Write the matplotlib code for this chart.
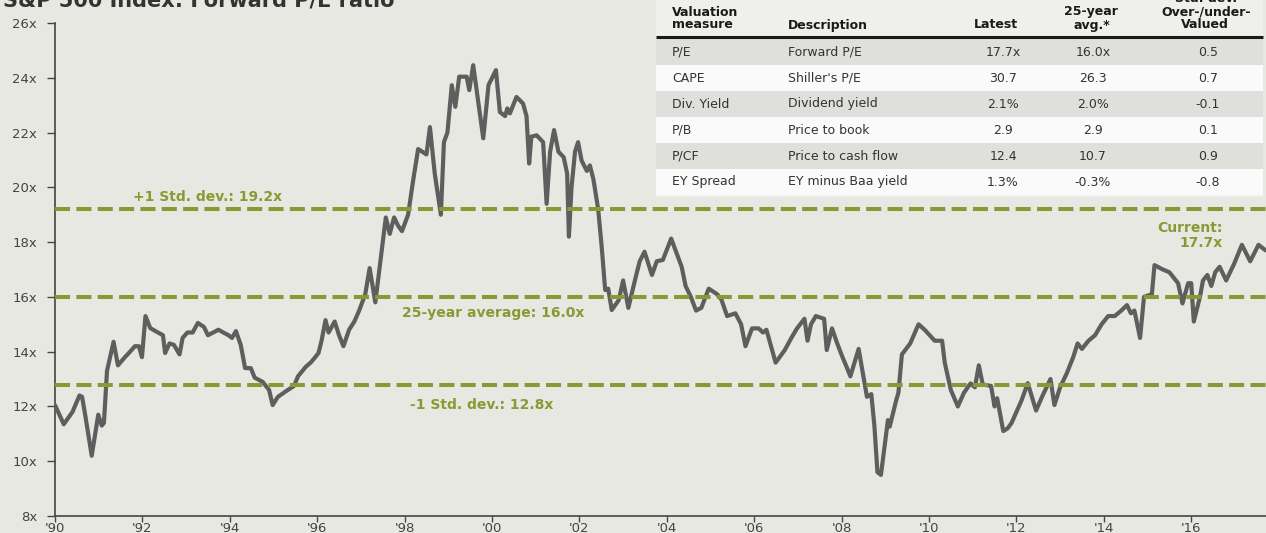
import matplotlib
matplotlib.use("Agg")
import matplotlib.pyplot as plt
from matplotlib.table import Table

# ---------------- data ----------------
years = [
    1990.00, 1990.20, 1990.40, 1990.56, 1990.62, 1990.70, 1990.84, 1990.99, 1991.07, 1991.12,
    1991.19, 1991.34, 1991.44, 1991.60, 1991.69, 1991.83, 1991.92, 1991.99, 1992.07, 1992.18,
    1992.30, 1992.47, 1992.52, 1992.62, 1992.72, 1992.85, 1992.92, 1993.03, 1993.15, 1993.27,
    1993.41, 1993.50, 1993.62, 1993.74, 1993.85, 1993.97, 1994.05, 1994.14, 1994.25, 1994.35,
    1994.48, 1994.57, 1994.75, 1994.90, 1994.98, 1995.10, 1995.28, 1995.47, 1995.56, 1995.74,
    1995.85, 1995.93, 1996.03, 1996.10, 1996.19, 1996.26, 1996.40, 1996.50, 1996.60, 1996.73,
    1996.85, 1996.96, 1997.10, 1997.20, 1997.33, 1997.43, 1997.57, 1997.66, 1997.76, 1997.85,
    1997.94, 1998.08, 1998.20, 1998.31, 1998.50, 1998.58, 1998.69, 1998.83, 1998.90, 1998.98,
    1999.08, 1999.16, 1999.25, 1999.42, 1999.48, 1999.57, 1999.69, 1999.80, 1999.92, 2000.09,
    2000.18, 2000.30, 2000.35, 2000.41, 2000.56, 2000.71, 2000.79, 2000.85, 2000.90, 2001.02,
    2001.17, 2001.25, 2001.33, 2001.42, 2001.52, 2001.64, 2001.72, 2001.76, 2001.82, 2001.90,
    2001.97, 2002.05, 2002.17, 2002.24, 2002.32, 2002.43, 2002.51, 2002.59, 2002.66, 2002.74,
    2002.90, 2003.00, 2003.12, 2003.27, 2003.38, 2003.49, 2003.66, 2003.77, 2003.91, 2004.10,
    2004.34, 2004.43, 2004.55, 2004.67, 2004.79, 2004.96, 2005.15, 2005.25, 2005.38, 2005.57,
    2005.70, 2005.80, 2005.95, 2006.10, 2006.20, 2006.28, 2006.49, 2006.70, 2006.85, 2006.98,
    2007.15, 2007.22, 2007.30, 2007.41, 2007.60, 2007.66, 2007.78, 2007.90, 2008.02, 2008.10,
    2008.20, 2008.39, 2008.54, 2008.58, 2008.68, 2008.75, 2008.82, 2008.90, 2009.06, 2009.10,
    2009.25, 2009.30, 2009.38, 2009.57, 2009.76, 2009.90, 2010.13, 2010.30, 2010.36, 2010.50,
    2010.66, 2010.80, 2010.95, 2011.05, 2011.14, 2011.23, 2011.42, 2011.50, 2011.56, 2011.70,
    2011.80, 2011.89, 2012.12, 2012.26, 2012.45, 2012.60, 2012.78, 2012.87, 2013.00, 2013.15,
    2013.30, 2013.40, 2013.50, 2013.65, 2013.80, 2013.95, 2014.10, 2014.25, 2014.40, 2014.53,
    2014.62, 2014.70, 2014.83, 2014.92, 2015.10, 2015.16, 2015.35, 2015.50, 2015.70, 2015.80,
    2015.93, 2016.00, 2016.06, 2016.20, 2016.27, 2016.37, 2016.46, 2016.55, 2016.65, 2016.80,
    2016.98, 2017.16, 2017.35, 2017.54, 2017.70,
]
forward_pe = [
    12.05, 11.35, 11.80, 12.40, 12.35, 11.60, 10.20, 11.70, 11.30, 11.40,
    13.30, 14.36, 13.50, 13.80, 13.95, 14.20, 14.20, 13.80, 15.30, 14.86,
    14.75, 14.60, 13.95, 14.30, 14.25, 13.90, 14.50, 14.70, 14.70, 15.05,
    14.90, 14.60, 14.70, 14.80, 14.70, 14.60, 14.50, 14.75, 14.25, 13.40,
    13.40, 13.05, 12.90, 12.60, 12.05, 12.35, 12.55, 12.75, 13.10, 13.45,
    13.60, 13.75, 13.95, 14.40, 15.15, 14.70, 15.10, 14.60, 14.20, 14.80,
    15.10, 15.50, 16.10, 17.05, 15.80, 17.10, 18.90, 18.30, 18.90, 18.60,
    18.40, 19.00, 20.30, 21.40, 21.20, 22.20, 20.50, 19.00, 21.65, 22.00,
    23.73, 22.94, 24.04, 24.04, 23.55, 24.46, 23.06, 21.79, 23.73, 24.28,
    22.75, 22.60, 22.88, 22.70, 23.30, 23.06, 22.60, 20.87, 21.85, 21.90,
    21.65, 19.40, 21.30, 22.09, 21.30, 21.10, 20.50, 18.20, 20.00, 21.30,
    21.65, 20.98, 20.60, 20.80, 20.30, 19.20, 17.83, 16.25, 16.30, 15.52,
    15.88, 16.60, 15.60, 16.60, 17.30, 17.65, 16.80, 17.30, 17.35, 18.13,
    17.10, 16.40, 16.00, 15.50, 15.60, 16.30, 16.10, 15.90, 15.30, 15.40,
    15.00, 14.20, 14.85, 14.85, 14.70, 14.80, 13.60, 14.06, 14.50, 14.85,
    15.20, 14.40, 15.00, 15.30, 15.20, 14.06, 14.85, 14.30, 13.80, 13.50,
    13.10, 14.10, 12.70, 12.35, 12.45, 11.30, 9.60, 9.50, 11.50, 11.26,
    12.23, 12.50, 13.90, 14.30, 15.00, 14.80, 14.40, 14.40, 13.60, 12.60,
    12.00, 12.50, 12.84, 12.70, 13.50, 12.80, 12.75, 12.00, 12.30, 11.10,
    11.20, 11.40, 12.23, 12.85, 11.85, 12.40, 13.00, 12.05, 12.70, 13.20,
    13.80, 14.30, 14.10, 14.40, 14.60, 15.00, 15.30, 15.30, 15.50, 15.70,
    15.40, 15.50, 14.50, 16.00, 16.10, 17.16, 17.00, 16.90, 16.50, 15.76,
    16.50, 16.50, 15.10, 16.00, 16.60, 16.80, 16.40, 16.90, 17.10, 16.60,
    17.20, 17.90, 17.30, 17.90, 17.70,
]

avg_25yr = 16.0
std_plus = 19.2
std_minus = 12.8
current_pe = 17.7

x_ticks = list(range(1990, 2017, 2))
x_labels = ["'90", "'92", "'94", "'96", "'98", "'00", "'02", "'04",
            "'06", "'08", "'10", "'12", "'14", "'16"]
y_ticks = list(range(8, 27, 2))
y_labels = ["8x", "10x", "12x", "14x", "16x", "18x", "20x", "22x", "24x", "26x"]

title = "S&P 500 Index: Forward P/E ratio"

tbl_measure = ["P/E", "CAPE", "Div. Yield", "P/B", "P/CF", "EY Spread"]
tbl_desc = ["Forward P/E", "Shiller's P/E", "Dividend yield", "Price to book",
            "Price to cash flow", "EY minus Baa yield"]
tbl_latest = ["17.7x", "30.7", "2.1%", "2.9", "12.4", "1.3%"]
tbl_avg = ["16.0x", "26.3", "2.0%", "2.9", "10.7", "-0.3%"]
tbl_std = ["0.5", "0.7", "-0.1", "0.1", "0.9", "-0.8"]

# ---------------- style ----------------
W, H = 1266, 533
BG = "#e8e8e3"
OLIVE = "#8a9934"
LINE = "#5e5e5e"
TXT = "#444444"
plt.rcParams["font.family"] = ["DejaVu Sans"]

fig = plt.figure(figsize=(W / 100, H / 100), dpi=100)
fig.patch.set_facecolor(BG)

# main axes in pixel layout
ax_left, ax_right, ax_top, ax_bottom = 55, W, 23, 516
ax = fig.add_axes([ax_left / W, (H - ax_bottom) / H,
                   (ax_right - ax_left) / W, (ax_bottom - ax_top) / H])
ax.set_facecolor(BG)
ax.set_xlim(1990, 1990 + (ax_right - ax_left) / 43.7)
ax.set_ylim(8, 26)

ax.plot(years, forward_pe, color=LINE, lw=3.0, solid_joinstyle="round",
        solid_capstyle="round", zorder=3)
for val in (std_plus, avg_25yr, std_minus):
    ax.axhline(val, color=OLIVE, lw=2.9, linestyle=(0, (3.75, 1.55)), zorder=4)

for s in ("top", "right"):
    ax.spines[s].set_visible(False)
for s in ("left", "bottom"):
    ax.spines[s].set_color("#444444")
    ax.spines[s].set_linewidth(1.2)

ax.set_xticks(x_ticks)
ax.set_xticklabels(x_labels)
ax.set_yticks(y_ticks)
ax.set_yticklabels(y_labels)
ax.tick_params(axis="y", direction="out", length=6, width=1, pad=7,
               labelsize=9.5, colors="#444444", labelcolor=TXT)
ax.tick_params(axis="x", direction="out", length=4, width=1, pad=0.5,
               labelsize=9.5, colors="#444444", labelcolor=TXT)


def fx(x):
    return x / W


def fy(y):
    return 1 - y / H


# annotations
ann = dict(color=OLIVE, fontsize=10, fontweight="bold", va="center")
fig.text(fx(208), fy(197), f"+1 Std. dev.: {std_plus:.1f}x", ha="center", **ann)
fig.text(fx(493), fy(313), f"25-year average: {avg_25yr:.1f}x", ha="center", **ann)
fig.text(fx(482), fy(405), f"-1 Std. dev.: {std_minus:.1f}x", ha="center", **ann)
fig.text(fx(1223), fy(228), "Current:", ha="right", **ann)
fig.text(fx(1223), fy(243), f"{current_pe:.1f}x", ha="right", **ann)

# title (cut off at top as in reference)
fig.text(fx(3), fy(6), title, ha="left", va="baseline", fontsize=15,
         fontweight="bold", color="#333333")

# ---------------- table ----------------
t_left, t_right, t_top, t_bottom = 656, 1263, 0, 197
body_top, body_bottom = 39, 195
tax = fig.add_axes([fx(t_left), fy(t_bottom), (t_right - t_left) / W,
                    (t_bottom - t_top) / H])
tax.set_xlim(t_left, t_right)
tax.set_ylim(t_bottom, t_top)
tax.set_facecolor("#efefec")
for s in tax.spines.values():
    s.set_visible(False)
tax.set_xticks([])
tax.set_yticks([])

# column boundaries in pixels (with a spacer column)
col_edges = [656, 780, 955, 1051, 1135, 1153, 1263]
col_w = [col_edges[i + 1] - col_edges[i] for i in range(len(col_edges) - 1)]
total_w = t_right - t_left

table = Table(tax, bbox=[0, (t_bottom - body_bottom) / (t_bottom - t_top),
                         1, (body_bottom - body_top) / (t_bottom - t_top)])
for r in range(len(tbl_measure)):
    row_vals = [tbl_measure[r], tbl_desc[r], tbl_latest[r], tbl_avg[r], "", tbl_std[r]]
    face = "#dfdfdb" if r % 2 == 0 else "#fafafa"
    for c, txt in enumerate(row_vals):
        loc = "left" if c < 2 else "center"
        cell = table.add_cell(r, c, col_w[c] / total_w, 1.0 / len(tbl_measure),
                              text=txt, loc=loc, facecolor=face, edgecolor="none")
        cell.set_linewidth(0)
        if c == 0:
            cell.PAD = 16 / col_w[c]
        elif c == 1:
            cell.PAD = 8 / col_w[c]
        cell.get_text().set_color("#333333")
table.auto_set_font_size(False)
table.set_fontsize(9)
tax.add_table(table)

# header
hdr = dict(fontsize=9, fontweight="bold", color="#1a1a1a", va="center")
tax.text(672, 12, "Valuation", ha="left", **hdr)
tax.text(672, 25, "measure", ha="left", **hdr)
tax.text(788, 25, "Description", ha="left", **hdr)
tax.text(996, 25, "Latest", ha="center", **hdr)
tax.text(1091, 12, "25-year", ha="center", **hdr)
tax.text(1092, 25, "avg.*", ha="center", **hdr)
tax.text(1206, -1, "Std. dev.", ha="center", **hdr)
tax.text(1206, 12, "Over-/under-", ha="center", **hdr)
tax.text(1205, 25, "Valued", ha="center", **hdr)
tax.plot([t_left, t_right], [37.5, 37.5], color="#1a1a1a", lw=2.2,
         solid_capstyle="butt", clip_on=False)

fig.savefig("out.png", dpi=100, facecolor=BG)
